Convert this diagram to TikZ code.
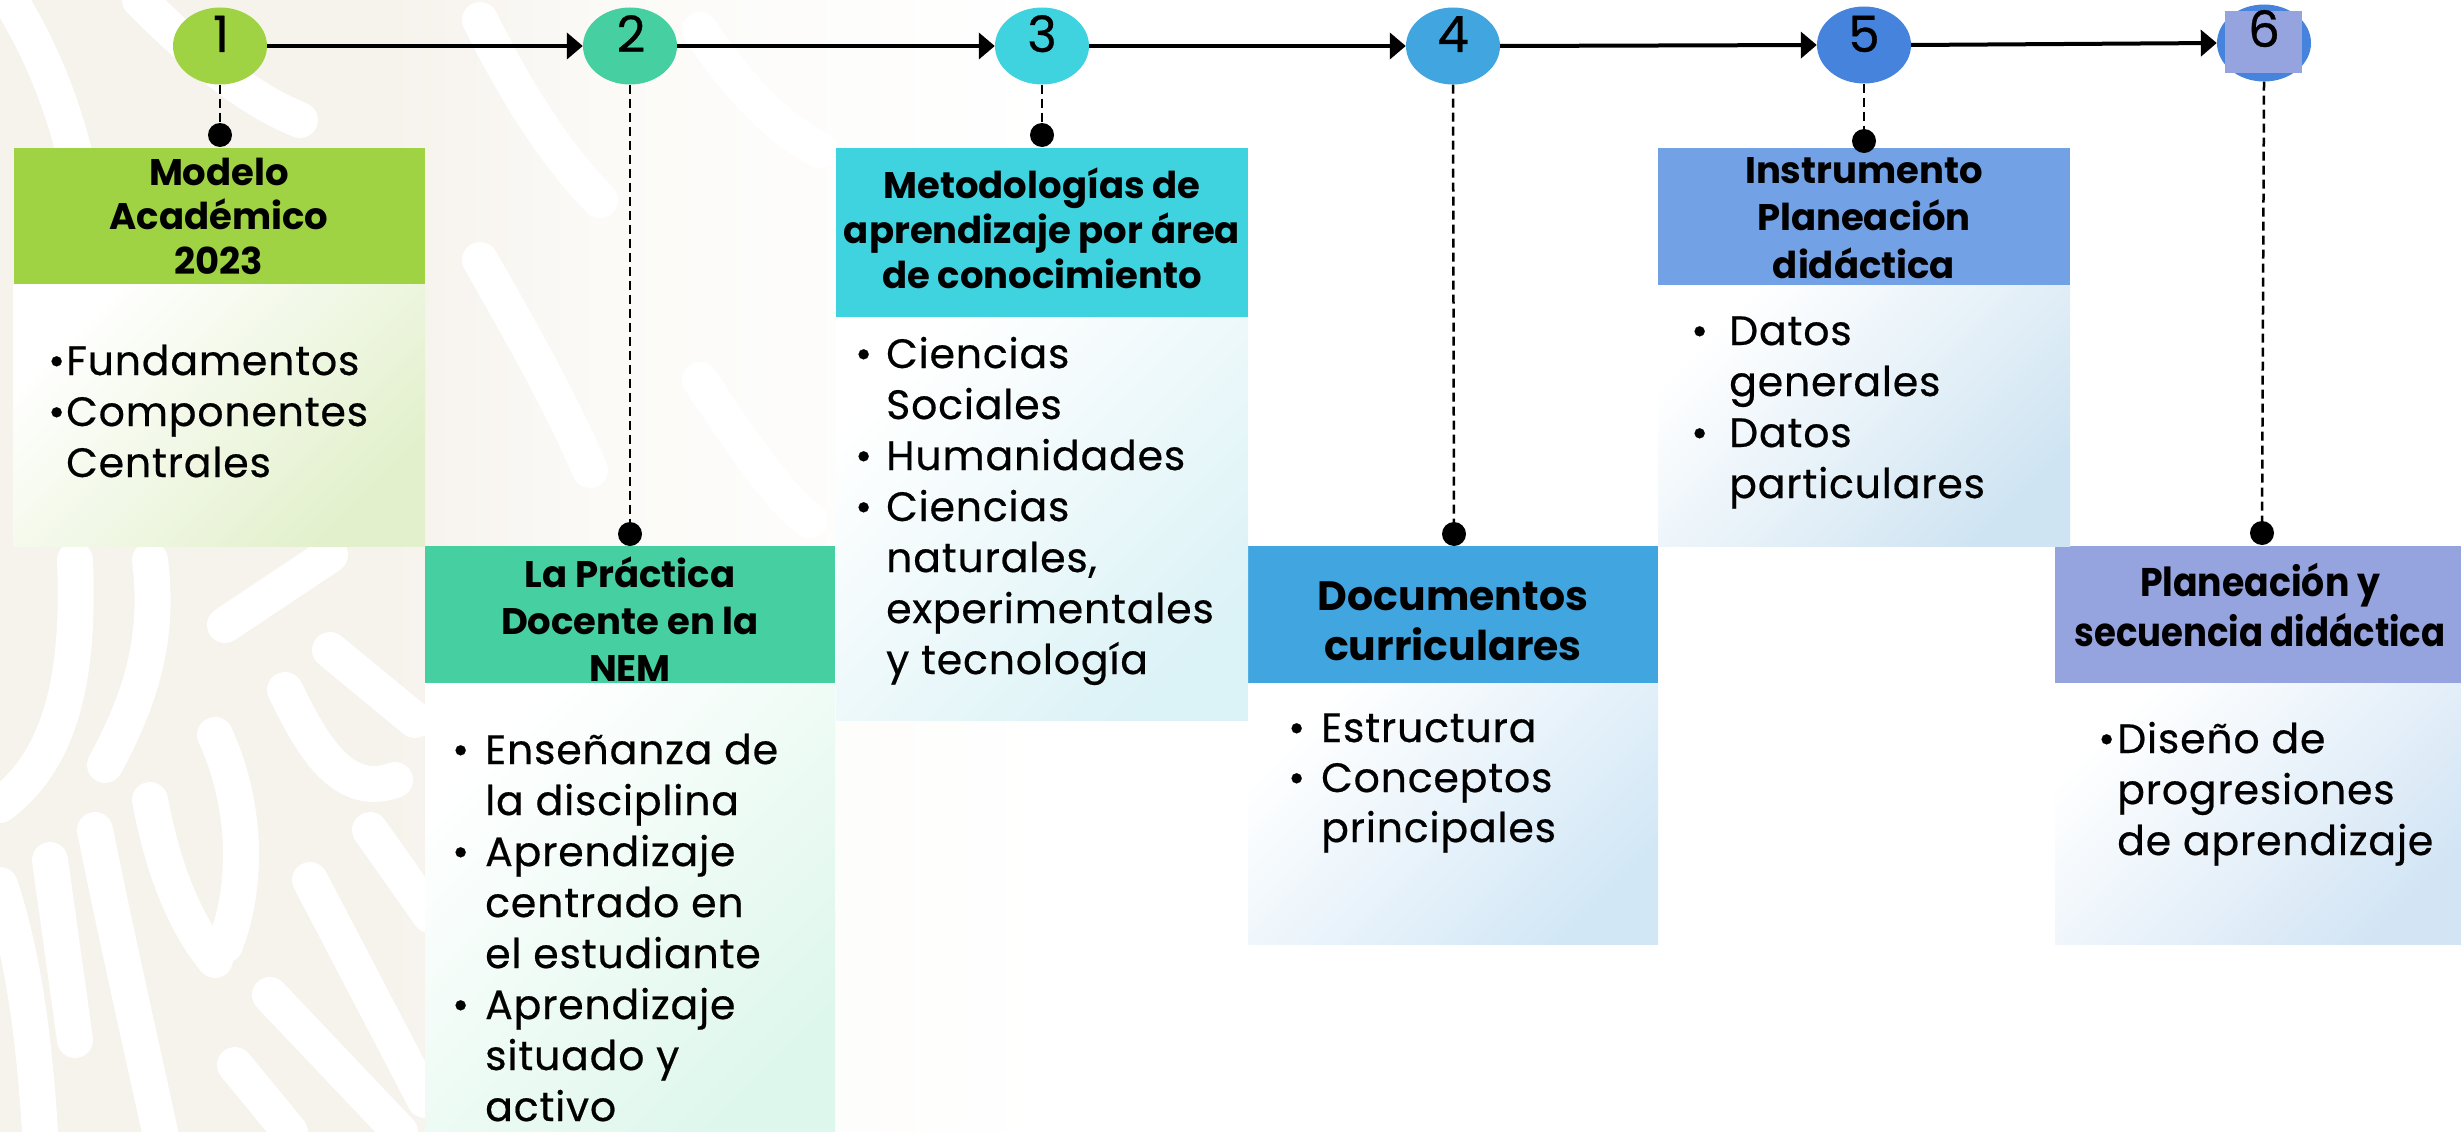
\documentclass[tikz,border=0pt]{standalone}
\usepackage{fontspec}
\setmainfont{Poppins}
\usetikzlibrary{shapes.geometric,arrows.meta}
\definecolor{bgbeige}{HTML}{F6F2EC}
\definecolor{bglight}{HTML}{FBFAF7}
\definecolor{cA}{HTML}{A0D343}
\definecolor{cB}{HTML}{46D0A1}
\definecolor{cC}{HTML}{3FD3E0}
\definecolor{cD}{HTML}{41A6E0}
\definecolor{cE}{HTML}{4583DD}
\definecolor{hE}{HTML}{72A1E5}
\definecolor{hF}{HTML}{95A3DE}
\definecolor{bA}{HTML}{E2F0CB}
\definecolor{bB}{HTML}{DEF7EC}
\definecolor{bC}{HTML}{DBF2F6}
\definecolor{bD}{HTML}{D2E7F6}
\definecolor{bE}{HTML}{CFE4F2}
\definecolor{bF}{HTML}{D3E5F5}
\newcommand\bodyf{\fontsize{41pt}{51pt}\selectfont\addfontfeatures{LetterSpace=2,FakeBold=0.5}}
\newcommand\mybul[1]{\leavevmode\llap{\makebox[#1][l]{•}}}
\begin{document}
\begin{tikzpicture}[x=1pt,y=-1pt,
  hdr/.style={rectangle, inner sep=0pt, outer sep=0pt, anchor=north west, draw=none},
  bodybox/.style={rectangle, inner sep=0pt, outer sep=0pt, anchor=north west, draw=none, top color=white, bottom color=#1, shading angle=45},
  numc/.style={ellipse, fill=#1, minimum width=94pt, minimum height=77pt, inner sep=0pt},
  numt/.style={anchor=base, inner sep=0pt, font=\fontsize{50pt}{50pt}\selectfont\addfontfeatures{FakeBold=0.6}},
  htxt/.style={anchor=base, inner sep=0pt},
  btxt/.style={anchor=base west, inner sep=0pt},
  dotn/.style={circle, fill=black, minimum size=24pt, inner sep=0pt},
  flow/.style={line width=4pt, -{Triangle[length=16pt,width=26pt]}},
  link/.style={line width=2.5pt, dash pattern=on 9pt off 5pt}
]
\useasboundingbox (0,0) rectangle (2461,1132);
\fill[white] (0,0) rectangle (2461,1132);
\fill[bgbeige] (0,0) rectangle (381,1132);
\shade[left color=bgbeige, right color=bglight] (380,0) rectangle (601,1132);
\shade[left color=bglight, right color=white] (600,0) rectangle (1050,1132);
% faint background pattern
\begin{scope}[white, line width=36pt, line cap=round]
  \draw (75,560) .. controls (80,680) and (60,760) .. (0,805);
  \draw (150,560) .. controls (160,640) and (140,700) .. (105,765);
  \draw (225,625) -- (330,555);
  \draw (330,650) -- (415,720);
  \draw (285,690) .. controls (310,740) and (340,800) .. (395,780);
  \draw (215,735) .. controls (245,800) and (250,880) .. (225,945);
  \draw (150,800) .. controls (165,880) and (190,930) .. (215,960);
  \draw (95,830) .. controls (115,930) and (140,1040) .. (160,1132);
  \draw (50,860) -- (75,1040);
  \draw (0,885) .. controls (25,960) and (35,1050) .. (40,1132);
  \draw (310,880) -- (425,1100);
  \draw (270,995) -- (400,1132);
  \draw (235,1065) -- (290,1132);
  \draw (370,830) -- (430,915);
  \draw (10,0) .. controls (60,80) and (90,180) .. (95,300);
  \draw (140,0) .. controls (200,60) and (250,100) .. (300,120);
  \draw (480,20) .. controls (520,100) and (560,160) .. (600,200);
  \draw (700,30) .. controls (740,90) and (780,130) .. (820,150);
  \draw (480,260) .. controls (520,330) and (560,400) .. (590,470);
  \draw (700,380) .. controls (740,440) and (780,500) .. (810,520);
  \draw (520,840) .. controls (560,900) and (600,960) .. (640,1000);
  \draw (700,760) .. controls (740,820) and (790,870) .. (820,900);
\end{scope}
% headers
\node[hdr, fill=cA, minimum width=411.5pt, minimum height=136.5pt] (h1) at (13.5,147.5) {};
\node[hdr, fill=cB, minimum width=410pt, minimum height=137pt] (h2) at (425,546) {};
\node[hdr, fill=cC, minimum width=412pt, minimum height=169pt] (h3) at (836,148) {};
\node[hdr, fill=cD, minimum width=410pt, minimum height=137pt] (h4) at (1248,546) {};
\node[hdr, fill=hE, minimum width=412pt, minimum height=137pt] (h5) at (1658,148) {};
\node[hdr, fill=hF, minimum width=406pt, minimum height=137pt] (h6) at (2055,546) {};
% header texts
\node[htxt] (ht1) at (219,185) {\parbox[t]{400pt}{\centering\bfseries\fontsize{37pt}{44.5pt}\selectfont Modelo\\Académico\\2023}};
\node[htxt] (ht2) at (630,587) {\parbox[t]{400pt}{\centering\bfseries\fontsize{37pt}{47pt}\selectfont La Práctica\\Docente en la\\NEM}};
\node[htxt] (ht3) at (1042,198) {\parbox[t]{410pt}{\centering\bfseries\fontsize{37pt}{45pt}\selectfont Metodologías de\\aprendizaje por área\\de conocimiento}};
\node[htxt] (ht4) at (1453,610) {\parbox[t]{400pt}{\centering\bfseries\fontsize{41pt}{50pt}\selectfont Documentos\\curriculares}};
\node[htxt] (ht5) at (1864,183) {\parbox[t]{400pt}{\centering\bfseries\fontsize{37pt}{47.5pt}\selectfont Instrumento\\Planeación\\didáctica}};
\node[htxt] (ht6) at (2260,596) {\parbox[t]{406pt}{\centering\bfseries\fontsize{40pt}{50pt}\selectfont \resizebox{240pt}{\height}{Planeación y}\\\resizebox{371pt}{\height}{secuencia didáctica}}};
% bodies
\node[bodybox=bA, minimum width=411.5pt, minimum height=262pt] (b1) at (13.5,284) {};
\node[bodybox=bB, minimum width=410pt, minimum height=449pt] (b2) at (425,683) {};
\node[bodybox=bC, minimum width=412pt, minimum height=403pt] (b3) at (836,317) {};
\node[bodybox=bD, minimum width=410pt, minimum height=261pt] (b4) at (1248,683) {};
\node[bodybox=bE, minimum width=412pt, minimum height=261pt] (b5) at (1658,285) {};
\node[bodybox=bF, minimum width=406pt, minimum height=261pt] (b6) at (2055,683) {};
% body texts
\node[btxt] (bt1) at (66,375) {\parbox[t]{350pt}{\raggedright\bodyf \mybul{18pt}Fundamentos\\\mybul{18pt}Componentes\\Centrales}};
\node[btxt] (bt2) at (485,764) {\parbox[t]{350pt}{\raggedright\bodyf \mybul{33pt}Enseñanza de\\la disciplina\\\mybul{33pt}Aprendizaje\\centrado en\\el estudiante\\\mybul{33pt}Aprendizaje\\situado y\\activo}};
\node[btxt] (bt3) at (886,368) {\parbox[t]{360pt}{\raggedright\bodyf \mybul{31pt}Ciencias\\Sociales\\\mybul{31pt}Humanidades\\\mybul{31pt}Ciencias\\naturales,\\experimentales\\y tecnología}};
\node[btxt] (bt4) at (1321,742) {\parbox[t]{330pt}{\raggedright\bodyf\fontsize{41pt}{50pt}\selectfont \mybul{33pt}Estructura\\\mybul{33pt}Conceptos\\principales}};
\node[btxt] (bt5) at (1729,345) {\parbox[t]{330pt}{\raggedright\bodyf \mybul{38pt}Datos\\generales\\\mybul{38pt}Datos\\particulares}};
\node[btxt] (bt6) at (2117,753) {\parbox[t]{340pt}{\raggedright\bodyf \mybul{19pt}Diseño de\\progresiones\\de aprendizaje}};
% circles
\node[numc=cA] (c1) at (220,46) {};
\node[numc=cB] (c2) at (630,46) {};
\node[numc=cC] (c3) at (1042,46) {};
\node[numc=cD] (c4) at (1453,46) {};
\node[numc=cE] (c5) at (1864,45) {};
\node[numc=cE] (c6) at (2264,43) {};
\node[rectangle, fill=hF, minimum width=77pt, minimum height=62pt, inner sep=0pt] (sq6) at (2263.5,42) {};
% dots
\node[dotn] (d1) at (220,135) {};
\node[dotn] (d2) at (630,534) {};
\node[dotn] (d3) at (1042,135) {};
\node[dotn] (d4) at (1454,534) {};
\node[dotn] (d5) at (1864,141) {};
\node[dotn] (d6) at (2262,533) {};
% dashed links
\draw[link] (c1.south) -- (d1.center);
\draw[link] (c2.south) -- (d2.center);
\draw[link] (c3.south) -- (d3.center);
\draw[link] (c4.south) -- (d4.center);
\draw[link] (c5.south) -- (d5.center);
\draw[link] (c6.south) -- (d6.center);
% flow arrows
\draw[flow] (c1.east) -- (c2.west);
\draw[flow] (c2.east) -- (c3.west);
\draw[flow] (c3.east) -- (c4.west);
\draw[flow] (c4.east) -- (c5.west);
\draw[flow] (c5.east) -- (c6.west);
% numbers
\node[numt] (n1) at (221,52) {1};
\node[numt] (n2) at (631,52) {2};
\node[numt] (n3) at (1042,52) {3};
\node[numt] (n4) at (1453,52) {4};
\node[numt] (n5) at (1864,52) {5};
\node[numt] (n6) at (2264,47) {6};
\end{tikzpicture}
\end{document}
